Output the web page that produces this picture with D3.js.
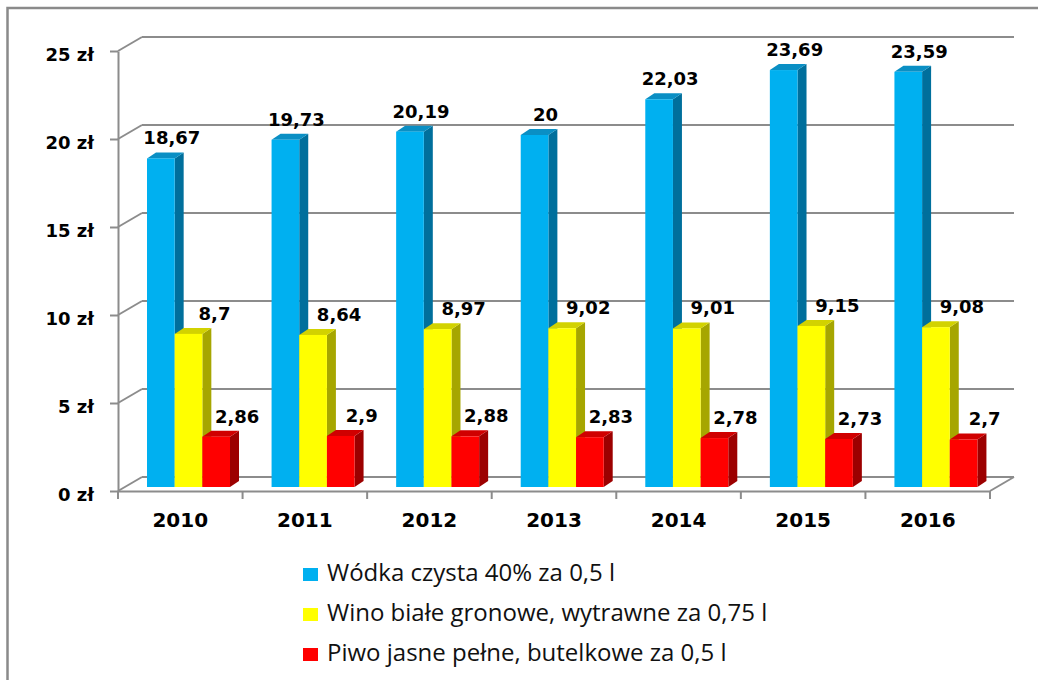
<!DOCTYPE html>
<html>
<head>
<meta charset="utf-8">
<script src="https://cdn.jsdelivr.net/npm/d3@7"></script>
<style>
    body { margin: 0; background: #fff; }
    .axis text { font-family: "DejaVu Sans", Verdana, sans-serif; font-weight: bold; fill: #000; }
    .axis path, .axis line { stroke: #8c8c8c; stroke-width: 2; }
    .grid { stroke: #8c8c8c; stroke-width: 2; fill: none; }
    .lbl { font-family: "DejaVu Sans", Verdana, sans-serif; font-weight: bold; font-size: 18px; fill: #000; }
    .legend text { font-family: "Open Sans", "Liberation Sans", sans-serif; font-size: 20px; fill: #111; }
</style>
</head>
<body>
<svg id="plate" width="1038" height="680"></svg>
<script>
// chart data
var years = ['2010', '2011', '2012', '2013', '2014', '2015', '2016'];
var vodka = [18.67, 19.73, 20.19, 20, 22.03, 23.69, 23.59];
var wine = [8.7, 8.64, 8.97, 9.02, 9.01, 9.15, 9.08];
var beer = [2.86, 2.9, 2.88, 2.83, 2.78, 2.73, 2.7];
var seriesNames = ['Wódka czysta 40% za 0,5 l', 'Wino białe gronowe, wytrawne za 0,75 l', 'Piwo jasne pełne, butelkowe za 0,5 l'];
var yTicks = [0, 5, 10, 15, 20, 25];

var series = [vodka, wine, beer];
// front / top / side colours per series
var colors = [
    {front: '#00b0f0', top: '#0a8fc4', side: '#006f9c'},
    {front: '#ffff00', top: '#d2d200', side: '#a6a600'},
    {front: '#ff0000', top: '#d00000', side: '#9c0000'}
];
var labelShift = [11, 26, 21];

var svg = d3.select('#plate');

// outer frame
svg.append('rect')
    .attr('x', 7.5).attr('y', 8)
    .attr('width', 1100).attr('height', 800)
    .attr('fill', 'none')
    .attr('stroke', '#8a8a8a')
    .attr('stroke-width', 2.5);

// set the ranges
var x = d3.scaleBand().domain(years).range([118, 990]);
var xs = d3.scaleBand().domain([0, 1, 2]).range([29, 112]);
var y = d3.scaleLinear().domain([0, 25]).range([491, 51]);
var wall = {dx: 24, dy: -14};     // depth of the back wall
var depth = {dx: 9, dy: -6};      // depth of each bar
var barLift = -4;                 // bars stand slightly behind the front plane

// gridlines on back wall + left wall diagonals
var grid = svg.append('g');
yTicks.forEach(function(t) {
    grid.append('line').attr('class', 'grid')
        .attr('x1', 118 + wall.dx).attr('x2', 990 + wall.dx)
        .attr('y1', y(t) + wall.dy).attr('y2', y(t) + wall.dy);
    grid.append('line').attr('class', 'grid')
        .attr('x1', 118).attr('x2', 118 + wall.dx)
        .attr('y1', y(t)).attr('y2', y(t) + wall.dy);
});
// right floor edge
grid.append('line').attr('class', 'grid')
    .attr('x1', 990).attr('x2', 990 + wall.dx)
    .attr('y1', y(0)).attr('y2', y(0) + wall.dy);

// Add the Y Axis
var yAxis = svg.append('g')
    .attr('class', 'axis')
    .attr('transform', 'translate(118,0)')
    .call(d3.axisLeft(y).tickValues(yTicks).tickSize(8).tickSizeOuter(0).tickPadding(16)
        .tickFormat(function(d) { return d + ' zł'; }));
yAxis.selectAll('text').style('font-size', '18px').attr('dy', '0.55em');

// Add the X Axis
var xAxis = svg.append('g')
    .attr('class', 'axis')
    .attr('transform', 'translate(0,' + y(0) + ')')
    .call(d3.axisBottom(x).tickSize(0).tickSizeOuter(0).tickPadding(22));
xAxis.selectAll('text').style('font-size', '20px');
xAxis.selectAll('.tick line').remove();
d3.range(years.length + 1).forEach(function(i) {
    xAxis.append('line')
        .attr('x1', 118 + i * x.step()).attr('x2', 118 + i * x.step())
        .attr('y1', 0).attr('y2', 8)
        .attr('stroke', '#8c8c8c').attr('stroke-width', 2);
});

// 3d bars
var bars = svg.append('g');
years.forEach(function(yr, i) {
    series.forEach(function(vals, s) {
        var v = vals[i];
        var x0 = x(yr) + xs(s);
        var x1 = x0 + xs.bandwidth();
        var yb = y(0) + barLift;
        var yt = y(v) + barLift;
        var c = colors[s];
        bars.append('path')
            .attr('d', ['M', x1, yb, 'L', x1 + depth.dx, yb + depth.dy, 'L', x1 + depth.dx, yt + depth.dy, 'L', x1, yt, 'Z'].join(' '))
            .attr('fill', c.side);
        bars.append('path')
            .attr('d', ['M', x0, yt, 'L', x0 + depth.dx, yt + depth.dy, 'L', x1 + depth.dx, yt + depth.dy, 'L', x1, yt, 'Z'].join(' '))
            .attr('fill', c.top);
        bars.append('rect')
            .attr('x', x0).attr('y', yt)
            .attr('width', xs.bandwidth()).attr('height', yb - yt)
            .attr('fill', c.front);
    });
});

// value labels
var labels = svg.append('g');
years.forEach(function(yr, i) {
    series.forEach(function(vals, s) {
        var v = vals[i];
        labels.append('text')
            .attr('class', 'lbl')
            .attr('text-anchor', 'middle')
            .attr('x', x(yr) + xs(s) + xs.bandwidth() / 2 + labelShift[s])
            .attr('y', y(v) + barLift - 14)
            .text(String(v).replace('.', ','));
    });
});

// legend
var legend = svg.append('g').attr('class', 'legend');
var legendText = [];
seriesNames.forEach(function(name, s) {
    var row = legend.append('g').attr('transform', 'translate(303,' + (568 + s * 40) + ')');
    row.append('rect').attr('width', 15).attr('height', 13).attr('fill', colors[s].front);
    legendText.push(row.append('text').attr('x', 24).attr('y', 13).text(name));
});
// fit legend font so the longest entry spans about 446px
var widest = d3.max(legendText, function(t) { return t.node().getComputedTextLength(); });
if (widest > 0) {
    var fs = Math.max(16, Math.min(24, 20 * 446 / widest));
    legendText.forEach(function(t) { t.style('font-size', fs + 'px'); });
}
</script>
</body>
</html>
